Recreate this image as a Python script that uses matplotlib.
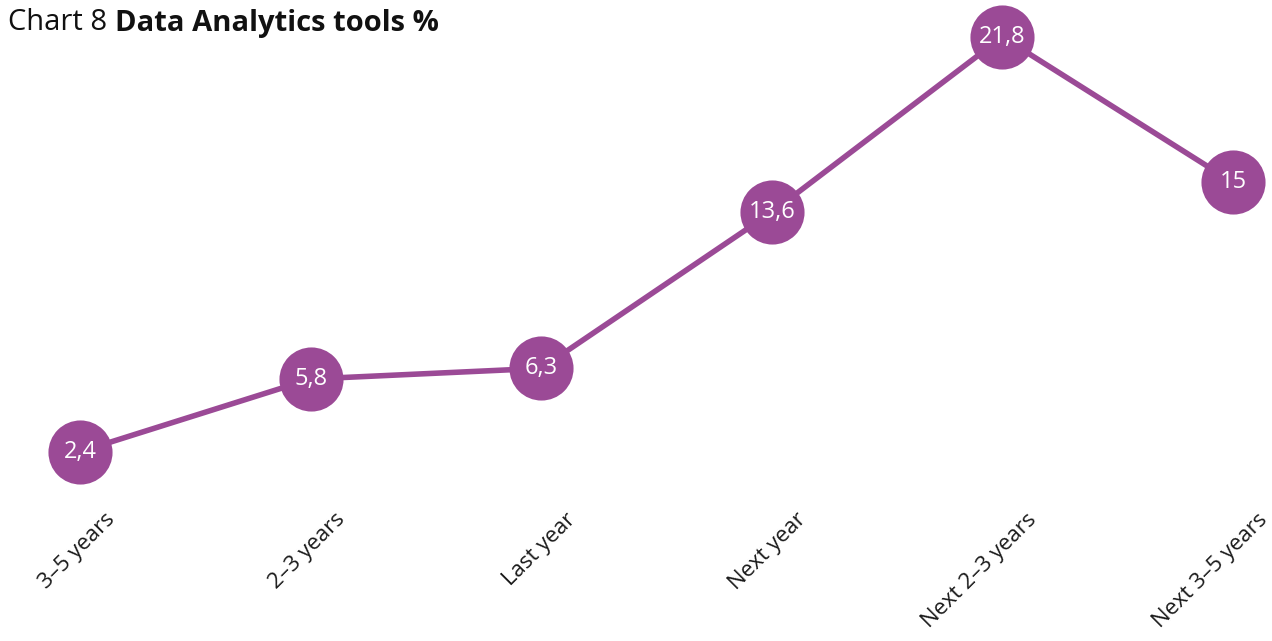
import matplotlib
matplotlib.use('Agg')
import matplotlib.pyplot as plt
from matplotlib.transforms import offset_copy

plt.rcParams['font.family'] = ['Open Sans', 'DejaVu Sans']

categories = ['3–5 years', '2–3 years', 'Last year', 'Next year',
              'Next 2–3 years', 'Next 3–5 years']
values = [2.4, 5.8, 6.3, 13.6, 21.8, 15]
value_labels = ['2,4', '5,8', '6,3', '13,6', '21,8', '15']

PURPLE = '#9b4a96'

fig = plt.figure(figsize=(12.72, 6.41), dpi=100)
ax = fig.add_axes([80 / 1272, 1 - 503 / 641, (1233 - 80) / 1272, (503 - 37) / 641])

x = list(range(len(categories)))
ax.plot(x, values, color=PURPLE, lw=4, clip_on=False, zorder=2,
        solid_capstyle='round')
ax.scatter(x, values, s=64 ** 2 * 0.52, color=PURPLE, clip_on=False, zorder=3,
           linewidths=0)
for xi, v, lab in zip(x, values, value_labels):
    ax.text(xi, v, lab, ha='center', va='center', color='white', fontsize=17,
            zorder=4)

ax.set_xlim(0, 5)
ax.set_ylim(0, 21.8)
ax.axis('off')

# rotated category labels below the points
for xi, cat in zip(x, categories):
    trans = offset_copy(ax.get_xaxis_transform(), fig=fig, x=24, y=-6, units='dots')
    ax.text(xi, 0, cat, transform=trans, rotation=45, rotation_mode='anchor',
            ha='right', va='top', fontsize=16, color='#1a1a1a')

# title: normal + bold parts
t1 = fig.text(8 / 1272, 1 - 23 / 641, 'Chart 8 ', fontsize=21, va='center',
              color='#111111')
fig.canvas.draw()
bb = t1.get_window_extent()
fig.text(bb.x1 / 1272, 1 - 23 / 641, 'Data Analytics tools %', fontsize=21,
         fontweight='bold', va='center', color='#111111')

fig.savefig('out.png', dpi=100)
